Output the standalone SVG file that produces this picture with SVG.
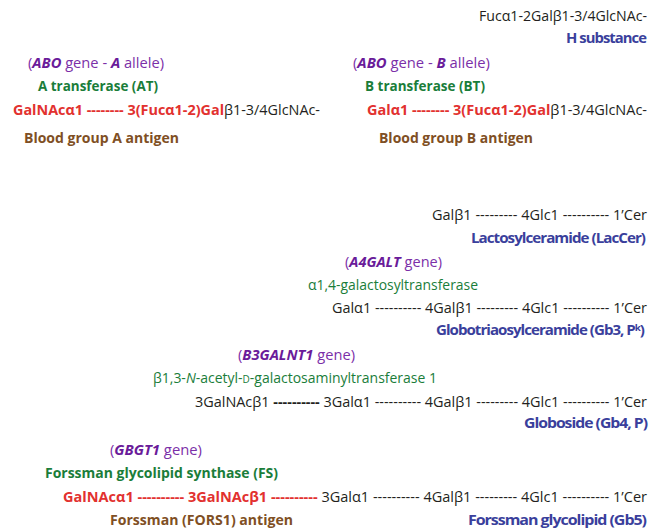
<svg xmlns="http://www.w3.org/2000/svg" width="650" height="531" viewBox="0 0 650 531">
<style>
text{font-family:"Open Sans","Noto Sans","Liberation Sans","DejaVu Sans",sans-serif;font-size:14px;fill:#231f20}
.b{font-weight:bold}
.bi{font-weight:bold;font-style:italic;fill:#6a1b9a}
.gene{fill:#7b2fa8}
.enz{fill:#1a7d3a}
.enzb{fill:#1a7d3a;font-weight:bold}
.red{fill:#e2312f;font-weight:bold}
.brown{fill:#7f4f24;font-weight:bold}
.blue{fill:#3a3f9c;font-weight:bold;letter-spacing:-0.9px}
.sc{font-size:10px}
</style>
<rect width="650" height="531" fill="#ffffff"/>
<g id="h-substance">
<text x="479" y="21" textLength="168" lengthAdjust="spacingAndGlyphs">Fucα1-2Galβ1-3/4GlcNAc-</text>
<text class="blue" x="566" y="43" textLength="80" lengthAdjust="spacingAndGlyphs">H substance</text>
</g>
<g id="blood-group-a">
<text class="gene" x="28" y="68" textLength="136" lengthAdjust="spacingAndGlyphs">(<tspan class="bi">ABO</tspan>  gene - <tspan class="bi">A</tspan> allele)</text>
<text class="enzb" x="38" y="91" textLength="120" lengthAdjust="spacingAndGlyphs">A transferase (AT)</text>
<text x="13" y="115" textLength="307" lengthAdjust="spacingAndGlyphs"><tspan class="red">GalNAcα1 -------- 3(Fucα1-2)Gal</tspan>β1-3/4GlcNAc-</text>
<text class="brown" x="24" y="143" textLength="155" lengthAdjust="spacingAndGlyphs">Blood group A antigen</text>
</g>
<g id="blood-group-b">
<text class="gene" x="353" y="68" textLength="137" lengthAdjust="spacingAndGlyphs">(<tspan class="bi">ABO</tspan>  gene - <tspan class="bi">B</tspan> allele)</text>
<text class="enzb" x="365" y="91" textLength="120" lengthAdjust="spacingAndGlyphs">B transferase (BT)</text>
<text x="367" y="115" textLength="280" lengthAdjust="spacingAndGlyphs"><tspan class="red">Galα1 -------- 3(Fucα1-2)Gal</tspan>β1-3/4GlcNAc-</text>
<text class="brown" x="379" y="143" textLength="154" lengthAdjust="spacingAndGlyphs">Blood group B antigen</text>
</g>
<g id="laccer">
<text x="432" y="220" textLength="215" lengthAdjust="spacingAndGlyphs">Galβ1 ---------  4Glc1 ---------- 1’Cer</text>
<text class="blue" x="471" y="243" textLength="174" lengthAdjust="spacingAndGlyphs">Lactosylceramide (LacCer)</text>
</g>
<g id="gb3">
<text class="gene" x="345" y="267" textLength="97" lengthAdjust="spacingAndGlyphs">(<tspan class="bi">A4GALT</tspan> gene)</text>
<text class="enz" x="308" y="290" textLength="170" lengthAdjust="spacingAndGlyphs">α1,4-galactosyltransferase</text>
<text x="332" y="313" textLength="315" lengthAdjust="spacingAndGlyphs">Galα1 ---------- 4Galβ1 ---------  4Glc1 ---------- 1’Cer</text>
<text class="blue" x="436" y="335" textLength="208" lengthAdjust="spacingAndGlyphs">Globotriaosylceramide (Gb3, Pᵏ)</text>
</g>
<g id="gb4">
<text class="gene" x="238" y="360" textLength="117" lengthAdjust="spacingAndGlyphs">(<tspan class="bi">B3GALNT1</tspan> gene)</text>
<text class="enz" x="153" y="383" textLength="284" lengthAdjust="spacingAndGlyphs">β1,3-<tspan font-style="italic">N</tspan>-acetyl-<tspan class="sc">D</tspan>-galactosaminyltransferase 1</text>
<text x="195" y="407" textLength="452" lengthAdjust="spacingAndGlyphs">3GalNAcβ1 <tspan class="b">----------</tspan> 3Galα1 ---------- 4Galβ1 ---------  4Glc1 ---------- 1’Cer</text>
<text class="blue" x="524" y="428" textLength="123" lengthAdjust="spacingAndGlyphs">Globoside (Gb4, P)</text>
</g>
<g id="gb5-forssman">
<text class="gene" x="110" y="455" textLength="92" lengthAdjust="spacingAndGlyphs">(<tspan class="bi">GBGT1</tspan> gene)</text>
<text class="enzb" x="45" y="478" textLength="233" lengthAdjust="spacingAndGlyphs">Forssman glycolipid synthase (FS)</text>
<text x="63" y="502" textLength="584" lengthAdjust="spacingAndGlyphs"><tspan class="red">GalNAcα1 ---------- 3GalNAcβ1 ----------</tspan> 3Galα1 ---------- 4Galβ1 ---------  4Glc1 ---------- 1’Cer</text>
<text class="brown" x="110" y="525" textLength="183" lengthAdjust="spacingAndGlyphs">Forssman (FORS1) antigen</text>
<text class="blue" x="468" y="525" textLength="178" lengthAdjust="spacingAndGlyphs">Forssman glycolipid (Gb5)</text>
</g>
</svg>
